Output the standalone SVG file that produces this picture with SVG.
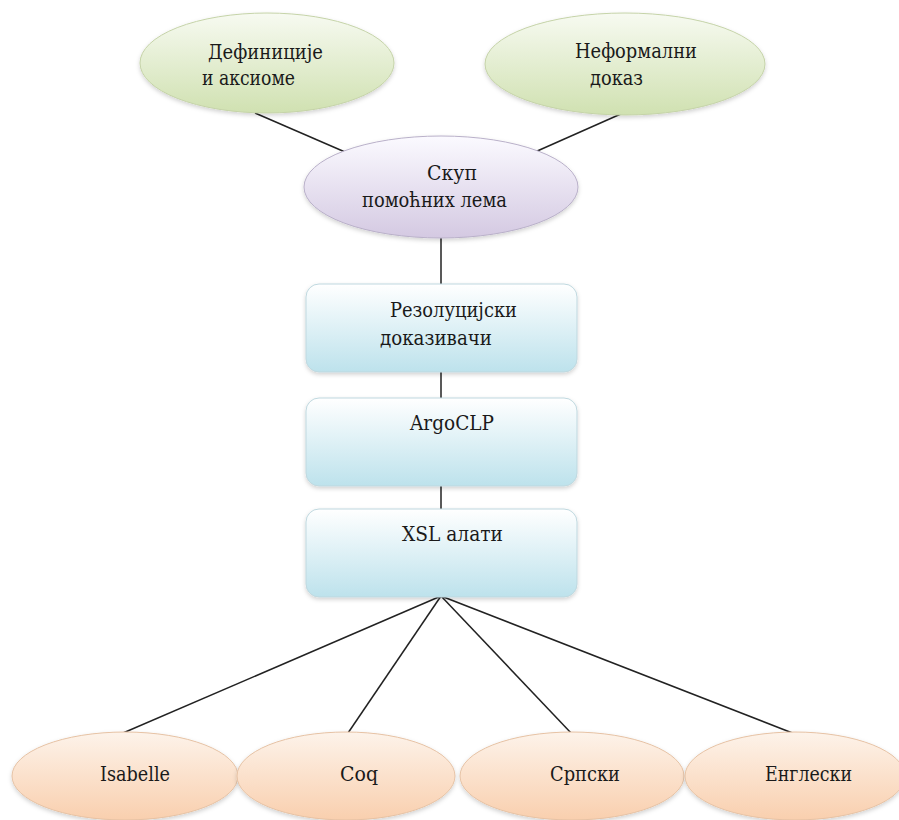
<svg xmlns="http://www.w3.org/2000/svg" width="899" height="820" viewBox="0 0 899 820">
<style>
.t{font-size:20px;fill:#1a1a1a}
.green{fill:url(#gGreen);stroke:#c5d3a8;stroke-width:1}
.purple{fill:url(#gPurple);stroke:#b9b0c9;stroke-width:1}
.blue{fill:url(#gBlue);stroke:#bfd8df;stroke-width:1}
.peach{fill:url(#gPeach);stroke:#e6c2a4;stroke-width:1}
.conn line{stroke:#222;stroke-width:1.5}
</style>
<defs>
<linearGradient id="gGreen" x1="0" y1="0" x2="0" y2="1"><stop offset="0" stop-color="#f7faf1"/><stop offset="1" stop-color="#d0e1b1"/></linearGradient>
<linearGradient id="gPurple" x1="0" y1="0" x2="0" y2="1"><stop offset="0" stop-color="#fbfaff"/><stop offset="1" stop-color="#d4c9e2"/></linearGradient>
<linearGradient id="gBlue" x1="0" y1="0" x2="0" y2="1"><stop offset="0" stop-color="#ffffff"/><stop offset="1" stop-color="#bde2ec"/></linearGradient>
<linearGradient id="gPeach" x1="0" y1="0" x2="0" y2="1"><stop offset="0" stop-color="#fdf3ea"/><stop offset="1" stop-color="#f9cfae"/></linearGradient>
<filter id="sh" x="-10%" y="-10%" width="120%" height="130%"><feDropShadow dx="0" dy="2" stdDeviation="2" flood-color="#000" flood-opacity="0.18"/></filter>
</defs>
<g class="conn" id="connectors">
<line x1="255" y1="113" x2="345" y2="152"/>
<line x1="623" y1="113" x2="535" y2="152"/>
<line x1="441" y1="238" x2="441" y2="284"/>
<line x1="441" y1="372" x2="441" y2="398"/>
<line x1="441" y1="486" x2="441" y2="509"/>
<line x1="441" y1="596" x2="123" y2="733"/>
<line x1="441" y1="596" x2="348" y2="733"/>
<line x1="441" y1="596" x2="572" y2="734"/>
<line x1="441" y1="596" x2="795" y2="734"/>
</g>
<g font-family="DejaVu Serif, serif">
<g id="definicije">
<ellipse class="green" cx="267" cy="63" rx="127" ry="50" filter="url(#sh)"/>
<text class="t" x="208" y="59" textLength="115" lengthAdjust="spacingAndGlyphs">Дефиниције</text>
<text class="t" x="202" y="85" textLength="93" lengthAdjust="spacingAndGlyphs">и аксиоме</text>
</g>
<g id="neformalni">
<ellipse class="green" cx="625" cy="64" rx="140" ry="51" filter="url(#sh)"/>
<text class="t" x="575" y="58" textLength="122" lengthAdjust="spacingAndGlyphs">Неформални</text>
<text class="t" x="590" y="85" textLength="53" lengthAdjust="spacingAndGlyphs">доказ</text>
</g>
<g id="skup">
<ellipse class="purple" cx="441" cy="187" rx="137" ry="51" filter="url(#sh)"/>
<text class="t" x="427" y="180" textLength="50" lengthAdjust="spacingAndGlyphs">Скуп</text>
<text class="t" x="362" y="207" textLength="145" lengthAdjust="spacingAndGlyphs">помоћних лема</text>
</g>
<g id="rezolucijski">
<rect class="blue" x="306" y="284" width="271" height="88" rx="13" filter="url(#sh)"/>
<text class="t" x="390" y="317" textLength="127" lengthAdjust="spacingAndGlyphs">Резолуцијски</text>
<text class="t" x="380" y="345" textLength="112" lengthAdjust="spacingAndGlyphs">доказивачи</text>
</g>
<g id="argoclp">
<rect class="blue" x="306" y="398" width="271" height="88" rx="13" filter="url(#sh)"/>
<text class="t" x="410" y="430" textLength="84" lengthAdjust="spacingAndGlyphs">ArgoCLP</text>
</g>
<g id="xsl">
<rect class="blue" x="306" y="509" width="271" height="88" rx="13" filter="url(#sh)"/>
<text class="t" x="402" y="541" textLength="101" lengthAdjust="spacingAndGlyphs">XSL алати</text>
</g>
<g id="isabelle">
<ellipse class="peach" cx="125" cy="776" rx="113" ry="44" filter="url(#sh)"/>
<text class="t" x="100" y="781" textLength="70" lengthAdjust="spacingAndGlyphs">Isabelle</text>
</g>
<g id="coq">
<ellipse class="peach" cx="346" cy="776" rx="109" ry="44" filter="url(#sh)"/>
<text class="t" x="340" y="781" textLength="38" lengthAdjust="spacingAndGlyphs">Coq</text>
</g>
<g id="srpski">
<ellipse class="peach" cx="572" cy="776" rx="112" ry="44" filter="url(#sh)"/>
<text class="t" x="550" y="781" textLength="70" lengthAdjust="spacingAndGlyphs">Српски</text>
</g>
<g id="engleski">
<ellipse class="peach" cx="795" cy="776" rx="110" ry="44" filter="url(#sh)"/>
<text class="t" x="765" y="781" textLength="87" lengthAdjust="spacingAndGlyphs">Енглески</text>
</g>
</g>
</svg>
